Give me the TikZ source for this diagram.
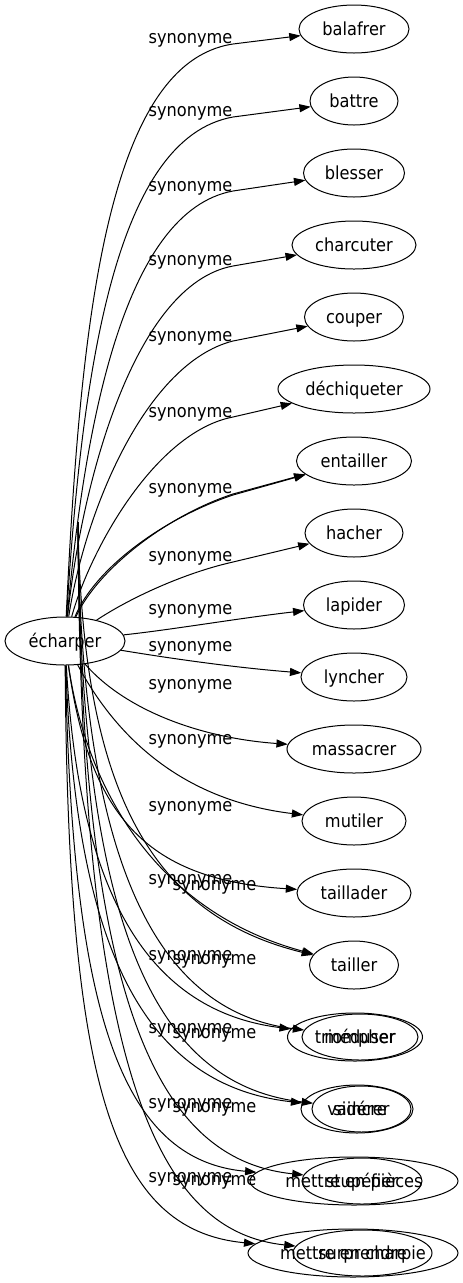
\documentclass[tikz,border=0pt]{standalone}
\usepackage{fontspec}
\setmainfont{DejaVu Sans}[FakeStretch=0.9]
\usetikzlibrary{arrows.meta,shapes.geometric}

\tikzset{every picture/.style={line width=0.75pt}}
\tikzset{
  word/.style={draw, ellipse, inner sep=0pt, minimum height=36pt, text height=12pt, text depth=3pt, font=\fontsize{13.5}{16}\selectfont},
  inword/.style={word, minimum height=34.5pt},
  syn/.style={-{Triangle[length=8.5pt,width=6pt]}},
  synlabel/.style={anchor=mid, inner sep=0pt, font=\fontsize{13.5}{16}\selectfont}
}

\begin{document}
\begin{tikzpicture}[x=0.75pt,y=0.75pt,yscale=-1,xscale=1]
	\useasboundingbox (0,0) rectangle (463,1283);

	%Shape: Ellipse
	\draw (65,641) node [word, minimum width=90pt] (ech) {écharper};
	\coordinate (ech2) at (78,522);

	%Shape: Ellipse
	\draw (354,29) node [word, minimum width=82.5pt] (balafrer) {balafrer};
	\draw (354,101) node [word, minimum width=66pt] (battre) {battre};
	\draw (354,173) node [word, minimum width=75.75pt] (blesser) {blesser};
	\draw (354,245) node [word, minimum width=93pt] (charcuter) {charcuter};
	\draw (354,317) node [word, minimum width=74.25pt] (couper) {couper};
	\draw (354,389) node [word, minimum width=114pt] (dechiqueter) {déchiqueter};
	\draw (354,461) node [word, minimum width=86.25pt] (entailler) {entailler};
	\draw (354,533) node [word, minimum width=73.5pt] (hacher) {hacher};
	\draw (354,605) node [word, minimum width=75.75pt] (lapider) {lapider};
	\draw (354,677) node [word, minimum width=79.5pt] (lyncher) {lyncher};
	\draw (354,749) node [word, minimum width=100.5pt] (massacrer) {massacrer};
	\draw (354,821) node [word, minimum width=78pt] (mutiler) {mutiler};
	\draw (354,893) node [word, minimum width=85.5pt] (taillader) {taillader};
	\draw (354,965) node [word, minimum width=66.75pt] (tailler) {tailler};
	\draw (355,1037) node [word, minimum width=101.25pt] (triompher) {triompher};
	\draw (357,1109) node [word, minimum width=84pt] (vaincre) {vaincre};
	\draw (354,1181) node [word, minimum width=156pt] (pieces) {mettre en pièces};
	\draw (353,1253) node [word, minimum width=157.5pt] (charpie) {mettre en charpie};
	%Shape: Ellipse (second set)
	\draw (360,1037) node [inword, minimum width=87pt] (meduser) {méduser};
	\draw (361.5,1109) node [inword, minimum width=74.25pt] (siderer) {sidérer};
	\draw (362,1181) node [inword, minimum width=90pt] (stupefier) {stupéfier};
	\draw (362.5,1253) node [inword, minimum width=104.25pt] (surprendre) {surprendre};

	%Curve Lines
	\draw [syn] (ech) .. controls (80,330) and (105,63) .. (233,44) -- (balafrer);
	\draw [syn] (ech) .. controls (82,370) and (115,138) .. (233,117) -- (battre);
	\draw [syn] (ech) .. controls (85,420) and (125,211) .. (233,191) -- (blesser);
	\draw [syn] (ech) .. controls (82,480) and (135,284) .. (233,266) -- (charcuter);
	\draw [syn] (ech) .. controls (85,510) and (146,363) .. (233,341) -- (couper);
	\draw [syn] (ech) .. controls (90,550) and (155,432) .. (233,417) -- (dechiqueter);
	\draw [syn] (ech) .. controls (97,570) and (166,516) .. (233,494) -- (entailler);
	\draw [syn] (ech) .. controls (95,568) and (164,518) .. (233,495) -- (entailler);
	\draw [syn] (ech) .. controls (130,598) and (184,573) .. (233,562) -- (hacher);
	\draw [syn] (ech) .. controls (170,630) and (240,618) .. (lapider);
	\draw [syn] (ech) .. controls (180,660) and (240,668) .. (lyncher);
	\draw [syn] (ech) .. controls (125,710) and (200,738) .. (massacrer);
	\draw [syn] (ech) .. controls (115,735) and (180,800) .. (mutiler);
	\draw [syn] (ech) .. controls (90,820) and (150,880) .. (taillader);
	\draw [syn] (ech) .. controls (85,780) and (150,910) .. (tailler);
	\draw [syn] (ech) .. controls (78,880) and (140,1010) .. (triompher);
	\draw [syn] (ech) .. controls (75,940) and (140,1085) .. (vaincre);
	\draw [syn] (ech) .. controls (72,1010) and (120,1160) .. (pieces);
	\draw [syn] (ech) .. controls (68,1080) and (110,1230) .. (charpie);
	%Curve Lines (second set)
	\draw [syn] (ech2) .. controls (82,790) and (150,915) .. (tailler);
	\draw [syn] (ech2) .. controls (80,870) and (160,1012) .. (meduser);
	\draw [syn] (ech2) .. controls (80,940) and (160,1085) .. (siderer);
	\draw [syn] (ech2) .. controls (80,1010) and (160,1160) .. (stupefier);
	\draw [syn] (ech2) .. controls (80,1080) and (160,1232) .. (surprendre);

	% Text Node
	\draw (190.5,40) node [synlabel] (syn1) {synonyme};
	\draw (190.5,113) node [synlabel] (syn2) {synonyme};
	\draw (190.5,187.5) node [synlabel] (syn3) {synonyme};
	\draw (190.5,262) node [synlabel] (syn4) {synonyme};
	\draw (190.5,337.5) node [synlabel] (syn5) {synonyme};
	\draw (190.5,413.5) node [synlabel] (syn6) {synonyme};
	\draw (190.5,490) node [synlabel] (syn7) {synonyme};
	\draw (190.5,557.5) node [synlabel] (syn8) {synonyme};
	\draw (190.5,611) node [synlabel] (syn9) {synonyme};
	\draw (190.5,648) node [synlabel] (syn10) {synonyme};
	\draw (190.5,686) node [synlabel] (syn11) {synonyme};
	\draw (190.5,741) node [synlabel] (syn12) {synonyme};
	\draw (190.5,807.5) node [synlabel] (syn13) {synonyme};
	\draw (190.5,880.7) node [synlabel] (syn14) {synonyme};
	\draw (190.5,956.7) node [synlabel] (syn15) {synonyme};
	\draw (190.5,1030) node [synlabel] (syn16) {synonyme};
	\draw (190.5,1105) node [synlabel] (syn17) {synonyme};
	\draw (190.5,1179) node [synlabel] (syn18) {synonyme};
	% Text Node (second set)
	\draw (214.5,886.7) node [synlabel] (syn19) {synonyme};
	\draw (214.5,961) node [synlabel] (syn20) {synonyme};
	\draw (214.5,1035) node [synlabel] (syn21) {synonyme};
	\draw (214.5,1109.3) node [synlabel] (syn22) {synonyme};
	\draw (214.5,1181.7) node [synlabel] (syn23) {synonyme};

\end{tikzpicture}
\end{document}
